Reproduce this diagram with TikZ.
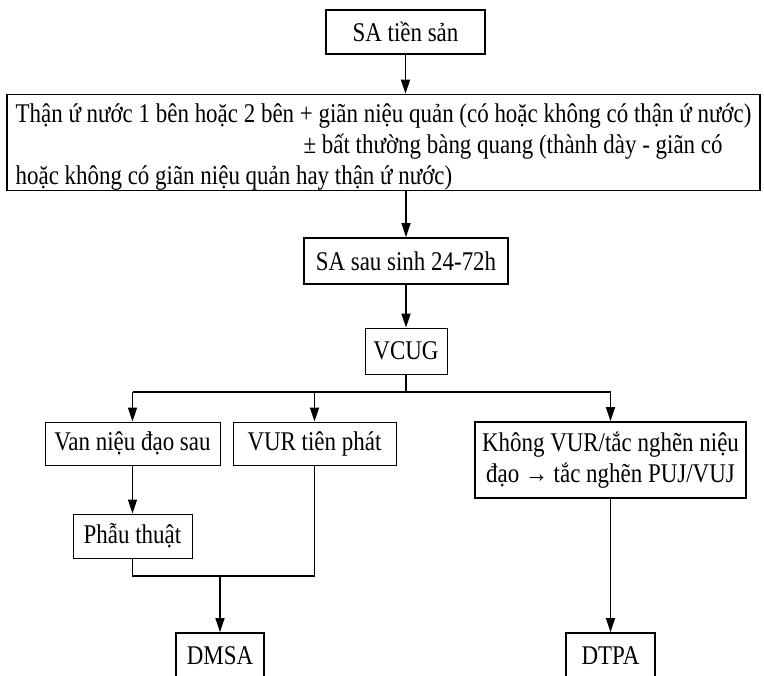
\documentclass[tikz,border=0pt]{standalone}
\usepackage{fontspec}
\setmainfont[FakeStretch=0.85]{Liberation Serif}
\usepackage{tikz}
\usetikzlibrary{arrows.meta}

\tikzset{
  box/.style={draw, inner sep=0pt, align=center,
    font=\fontsize{27pt}{31pt}\selectfont},
  boldbox/.style={box, line width=1.7pt},
  thinbox/.style={box, line width=0.9pt},
  link/.style={line width=1.5pt},
  arr/.style={link, -{Stealth[length=14pt, width=9pt, inset=0pt]}}
}

\begin{document}
\begin{tikzpicture}[x=1pt, y=-1pt]
        % Page frame
        \clip (0,0) rectangle (764,676);

        % Top of the chart
        \node[boldbox, minimum width=159pt, minimum height=44pt] (pre) at (405.5,32) {SA tiền sản};
        \node[boldbox, minimum width=753pt, minimum height=95pt, align=left] (find) at (383.5,142.5)
            {\rule{0pt}{28pt}Thận ứ nước 1 bên hoặc 2 bên + giãn niệu quản (có hoặc không có thận ứ nước)\\
             \hspace*{288pt}± bất thường bàng quang (thành dày - giãn có\\
             hoặc không có giãn niệu quản hay thận ứ nước)};
        \node[boldbox, minimum width=204pt, minimum height=46pt] (post) at (406,261) {SA sau sinh 24-72h};
        \node[thinbox, minimum width=82pt, minimum height=46pt] (vcug) at (406,351) {VCUG};

        % Three branches under VCUG
        \node[thinbox, minimum width=175pt, minimum height=43pt] (valve) at (132.5,443.5) {Van niệu đạo sau};
        \node[thinbox, minimum width=163pt, minimum height=43pt] (vur) at (314.5,443.5) {VUR tiên phát};
        \node[boldbox, minimum width=271pt, minimum height=76pt] (obst) at (610.5,460)
            {Không VUR/tắc nghẽn niệu\\đạo → tắc nghẽn PUJ/VUJ};
        \node[thinbox, minimum width=119pt, minimum height=44pt] (surg) at (132.5,536) {Phẫu thuật};

        % Scans at the bottom
        \node[boldbox, minimum width=88pt, minimum height=46pt] (dmsa) at (220,656) {DMSA};
        \node[boldbox, minimum width=89pt, minimum height=46pt] (dtpa) at (610.5,656) {DTPA};

        % Straight arrows down the middle
        \draw[arr] (pre) -- (pre |- find.north);
        \draw[arr] (find.south -| post) -- (post);
        \draw[arr] (post) -- (vcug);

        % Split below VCUG
        \coordinate (split) at (vcug.south |- 0,392);
        \draw[link] (vcug) -- (split);
        \draw[link] (split -| valve) -- (split -| obst);
        \foreach \n in {valve, vur, obst} {
            \draw[arr] (split -| \n) -- (\n);
        }

        % Join into DMSA
        \coordinate (join) at (dmsa.north |- 0,576);
        \draw[arr] (valve) -- (surg);
        \draw[link] (surg.south) |- (join) -| (vur.south);
        \draw[arr] (join) -- (dmsa);
        \draw[arr] (obst) -- (dtpa);
    \end{tikzpicture}
\end{document}
